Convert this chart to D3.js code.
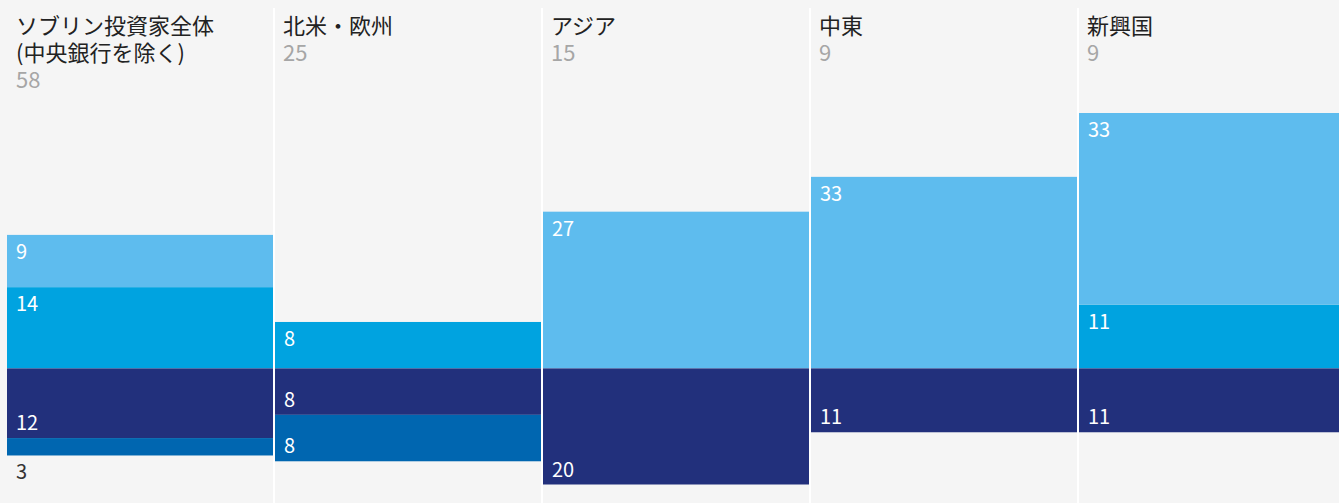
<!DOCTYPE html>
<html lang="ja">
<head>
<meta charset="utf-8">
<script src="https://cdn.jsdelivr.net/npm/d3@7"></script>
<style>
  html, body { margin: 0; padding: 0; background: #f5f5f5; }
  svg { display: block; }
  text { font-family: "Noto Sans CJK JP", "Noto Sans", sans-serif; }
</style>
</head>
<body>
<script>
// Investor groups, one column each (title lines, respondent count)
const categories = [
  ["ソブリン投資家全体", "(中央銀行を除く)"],
  ["北米・欧州"],
  ["アジア"],
  ["中東"],
  ["新興国"]
];
const counts = [58, 25, 15, 9, 9];

// Shares (%) stacked upward from the baseline: nearest first
const seriesUpInner = [14, 8, 0, 0, 11];   // mid blue
const seriesUpOuter = [9, 0, 27, 33, 33];  // light blue
// Shares (%) stacked downward from the baseline: nearest first
const seriesDownInner = [12, 8, 20, 11, 11]; // navy
const seriesDownOuter = [3, 8, 0, 0, 0];     // deep blue

const W = 1339, H = 503;
const colW = 268, left = 7;

const svg = d3.select("body").append("svg")
  .attr("width", W).attr("height", H);

svg.append("rect").attr("width", W).attr("height", H).attr("fill", "#f5f5f5");

const x = d3.scaleBand()
  .domain(d3.range(categories.length))
  .range([left, left + colW * categories.length])
  .padding(0);

const y = d3.scaleLinear().domain([-20, 44]).range([484.5, 113]);

const layers = [
  { values: seriesUpInner, dir: 1, order: 0, color: "#00a3e0" },
  { values: seriesUpOuter, dir: 1, order: 1, color: "#5ebcee" },
  { values: seriesDownInner, dir: -1, order: 0, color: "#22307c" },
  { values: seriesDownOuter, dir: -1, order: 1, color: "#0066b0" }
];

// Build segments per column
const segments = [];
categories.forEach((c, i) => {
  let up = 0, down = 0;
  layers.forEach(L => {
    const v = L.values[i];
    if (L.dir === 1) {
      segments.push({ i, v, y0: up, y1: up + v, dir: 1, color: L.color });
      up += v;
    } else {
      segments.push({ i, v, y0: down, y1: down - v, dir: -1, color: L.color });
      down -= v;
    }
  });
});

const shown = segments.filter(d => d.v > 0);
const bw = x.bandwidth();

svg.append("g").selectAll("rect")
  .data(shown)
  .join("rect")
  .attr("x", d => x(d.i))
  .attr("width", bw)
  .attr("y", d => Math.min(y(d.y0), y(d.y1)))
  .attr("height", d => Math.abs(y(d.y0) - y(d.y1)))
  .attr("fill", d => d.color);

// Value labels: top of upward segments, bottom of downward ones;
// segments too thin for text get their label underneath in dark ink
svg.append("g").selectAll("text")
  .data(shown)
  .join("text")
  .attr("x", d => x(d.i) + 9)
  .attr("y", d => {
    const h = Math.abs(y(d.y0) - y(d.y1));
    if (d.dir === 1) return y(d.y1) + 24;
    if (h < 28) return y(d.y1) + 24;
    return y(d.y1) - 8;
  })
  .attr("fill", d => Math.abs(y(d.y0) - y(d.y1)) < 28 ? "#333" : "#fff")
  .attr("font-size", 20)
  .text(d => d.v);

// Column separators
svg.append("g").selectAll("line")
  .data(d3.range(1, categories.length))
  .join("line")
  .attr("x1", i => x(i) - 1).attr("x2", i => x(i) - 1)
  .attr("y1", 8).attr("y2", H)
  .attr("stroke", "#fff").attr("stroke-width", 2);

// Column titles and counts
const head = svg.append("g").selectAll("g")
  .data(categories.map((c, i) => ({ c, i })))
  .join("g")
  .attr("transform", d => `translate(${x(d.i) + (d.i === 0 ? 9 : 8)},0)`);

head.each(function(d) {
  const g = d3.select(this);
  d.c.forEach((line, k) => {
    g.append("text").attr("y", 34 + k * 27).attr("font-size", 22)
      .attr("fill", "#222").text(line);
  });
  g.append("text").attr("y", 34 + d.c.length * 27).attr("font-size", 22)
    .attr("fill", "#a6a6a6").text(counts[d.i]);
});
</script>
</body>
</html>
